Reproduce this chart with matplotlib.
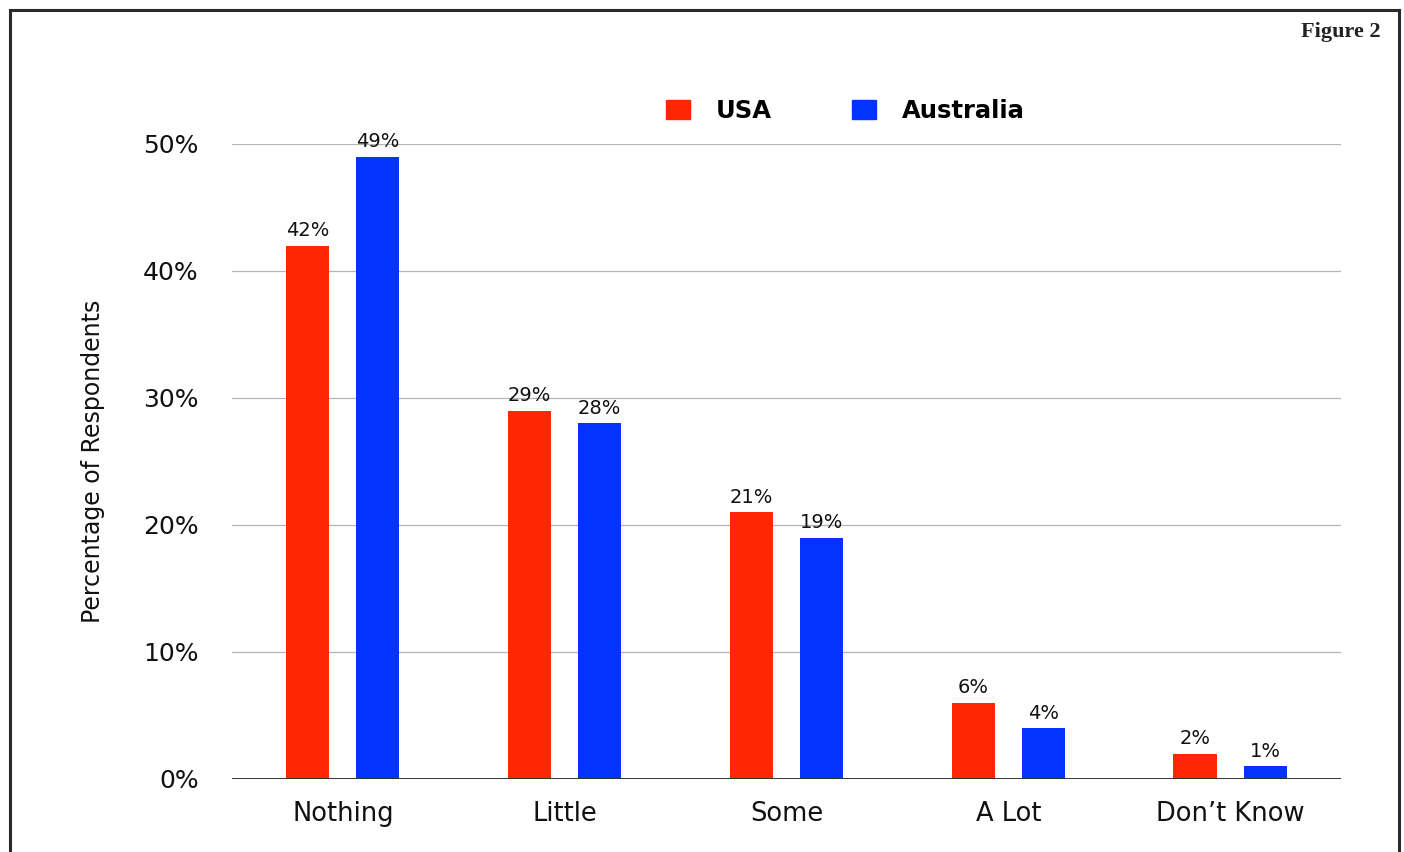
import matplotlib
matplotlib.use("Agg")
import matplotlib.pyplot as plt
import numpy as np
from matplotlib.lines import Line2D
from matplotlib.patches import Patch

categories = ["Nothing", "Little", "Some", "A Lot", "Don\u2019t Know"]
usa = [42, 29, 21, 6, 2]
australia = [49, 28, 19, 4, 1]
y_ticks = [0, 10, 20, 30, 40, 50]

RED = "#FF2600"
BLUE = "#0433FF"
SANS = "DejaVu Sans"

fig = plt.figure(figsize=(14.04, 8.52), dpi=100)
ax = fig.add_axes([0.1652, 0.0857, 0.7899, 0.7453])

x = np.arange(len(categories))
off = 0.158
w = 0.194
b1 = ax.bar(x - off, usa, w, color=RED, label="USA", zorder=3)
b2 = ax.bar(x + off, australia, w, color=BLUE, label="Australia", zorder=3)

for bars, vals in ((b1, usa), (b2, australia)):
    for rect, v in zip(bars, vals):
        ax.annotate(f"{v}%", (rect.get_x() + rect.get_width() / 2, v),
                    xytext=(0, 4), textcoords="offset points",
                    ha="center", va="bottom", fontsize=14, family=SANS,
                    color="#111111", zorder=4)

ax.set_xlim(-0.5, len(categories) - 0.5)
ax.set_ylim(0, 50)
ax.set_yticks(y_ticks)
ax.set_yticklabels([f"{t}%" for t in y_ticks], fontsize=18, family=SANS, color="#111111")
ax.set_xticks(x)
ax.set_xticklabels(categories, fontsize=18.5, family=SANS, color="#111111")
ax.tick_params(axis="both", length=0)
ax.tick_params(axis="y", pad=24)
ax.tick_params(axis="x", pad=16)

for t in y_ticks[1:]:
    ax.axhline(t, color="#b4b4b4", linewidth=0.9, zorder=1)
ax.axhline(0, color="#333333", linewidth=1.4, zorder=5)
for s in ax.spines.values():
    s.set_visible(False)

fig.text(93 / 1404, 0.4585, "Percentage of Respondents", rotation=90,
         ha="center", va="center", fontsize=17, family=SANS, color="#111111")

handles = [Patch(color=RED, label="USA"), Patch(color=BLUE, label="Australia")]
leg = fig.legend(handles=handles, loc="center", bbox_to_anchor=(0.602, 0.870),
                 ncol=2, frameon=False, handlelength=1.0, handleheight=0.8,
                 handletextpad=1.05, columnspacing=3.3,
                 prop={"family": SANS, "weight": "bold", "size": 17.5})

fig.text(1381 / 1404, 1 - 37 / 852, "Figure 2", ha="right", va="baseline",
         fontsize=16, family="Liberation Serif", weight="bold", color="#222222")

# page frame: left, top and right edges
fx0, fx1, fy = 10 / 1404, 1399 / 1404, 1 - 10 / 852
frame = dict(color="#2a2a2a", linewidth=2.2, transform=fig.transFigure)
fig.add_artist(Line2D([fx0, fx0], [0, fy], **frame))
fig.add_artist(Line2D([fx0, fx1], [fy, fy], **frame))
fig.add_artist(Line2D([fx1, fx1], [fy, 0], **frame))

fig.savefig("out.png", dpi=100, facecolor="white")
